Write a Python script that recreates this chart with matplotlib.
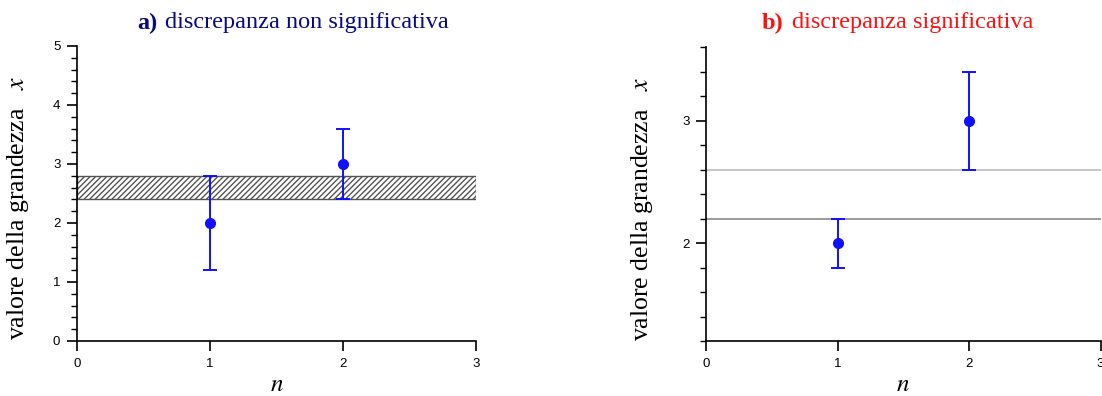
import matplotlib.pyplot as plt
from matplotlib.ticker import MultipleLocator

# dati
n_points = [1, 2]
x_a = [2.0, 3.0]
err_a = [0.8, 0.6]
band_a = [2.4, 2.8]
x_b = [2.0, 3.0]
err_b = [0.2, 0.4]
lines_b = [2.2, 2.6]
lines_b_colors = ["#8a8a8a", "#bdbdbd"]

BLUE = "#1010ff"
SERIF = "Liberation Serif"
SANS = "Liberation Sans"

plt.rcParams["mathtext.fontset"] = "stix"

fig = plt.figure(figsize=(11.02, 3.96), dpi=100)
ax_a = fig.add_axes([0.0699, 0.1389, 0.3621, 0.745])
ax_b = fig.add_axes([0.6407, 0.1389, 0.358, 0.742])


def style(ax, ylim, major):
    ax.set_xlim(0, 3)
    ax.set_ylim(*ylim)
    ax.xaxis.set_major_locator(MultipleLocator(1))
    ax.yaxis.set_major_locator(MultipleLocator(major))
    ax.yaxis.set_minor_locator(MultipleLocator(0.2))
    for s in ["top", "right"]:
        ax.spines[s].set_visible(False)
    for s in ["left", "bottom"]:
        ax.spines[s].set_linewidth(1.2)
    ax.tick_params(which="major", length=7, width=1.2, labelsize=9.5, pad=5)
    ax.tick_params(which="minor", length=4, width=1.0)
    for lab in ax.get_xticklabels() + ax.get_yticklabels():
        lab.set_fontfamily(SANS)
    ax.set_xlabel("$n$", fontsize=18, labelpad=2)
    ax.set_ylabel("valore della grandezza   $x$", fontsize=18.5, family=SERIF)


# pannello a
ax_a.fill_between([0, 3], band_a[0], band_a[1], facecolor="white",
                  edgecolor="#555555", hatch="//////", linewidth=1.0, zorder=1)
ax_a.errorbar(n_points, x_a, yerr=err_a, fmt="o", color=BLUE, ms=7,
              capsize=5, elinewidth=1.4, capthick=1.4, zorder=3)
style(ax_a, (0, 5), 1)
ax_a.yaxis.set_label_coords(-0.115, 0.45)

# pannello b
for y, c in zip(lines_b, lines_b_colors):
    ax_b.axhline(y, color=c, lw=1.2, zorder=1)
ax_b.errorbar(n_points, x_b, yerr=err_b, fmt="o", color=BLUE, ms=7,
              capsize=5, elinewidth=1.4, capthick=1.4, zorder=3)
style(ax_b, (1.2, 3.6), 1)
ax_b.yaxis.set_label_coords(-0.129, 0.45)

# titoli
fig.text(0.1243, 0.942, "a)", color="#0a0a80", fontsize=17.5, family=SERIF,
         weight="bold", ha="left", va="center")
fig.text(0.1497, 0.942, "discrepanza non significativa", color="#0a0a80",
         fontsize=17.5, family=SERIF, ha="left", va="center")
fig.text(0.6915, 0.942, "b)", color="#ff1010", fontsize=17.5, family=SERIF,
         weight="bold", ha="left", va="center")
fig.text(0.7187, 0.942, "discrepanza significativa", color="#ff1010",
         fontsize=17.5, family=SERIF, ha="left", va="center")

fig.savefig("out.png", dpi=100)
